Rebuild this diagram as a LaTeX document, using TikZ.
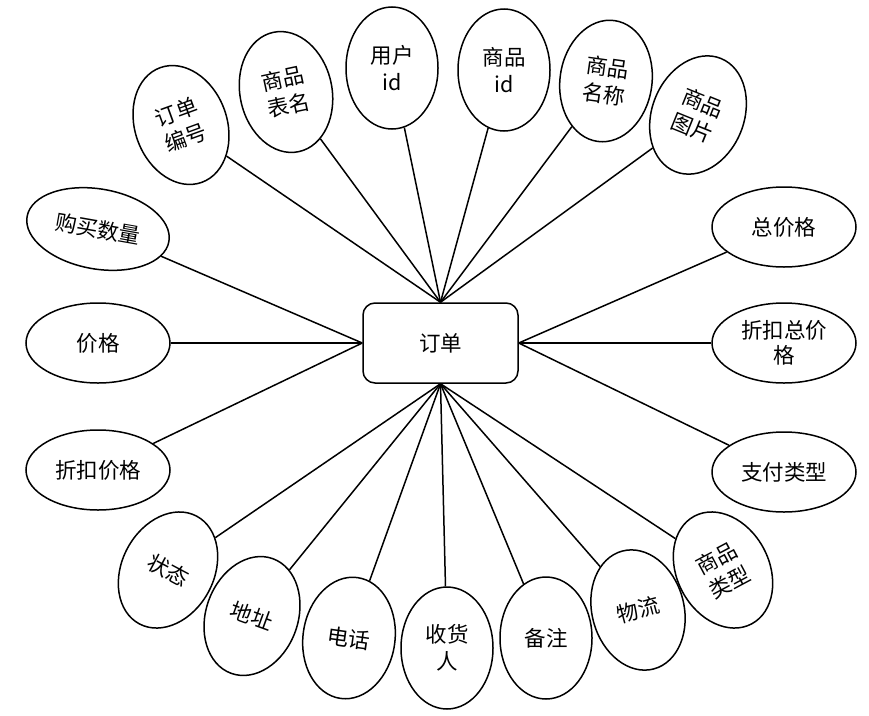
\documentclass[tikz,border=0pt]{standalone}
\usepackage{fontspec}
\newfontfamily\cjk{Noto Sans CJK SC}
\usetikzlibrary{shapes.geometric}

\begin{document}
\begin{tikzpicture}[x=1pt,y=-1pt,line width=1.5pt,
  attr/.style={draw,ellipse,fill=white,inner sep=0pt,minimum width=92pt,minimum height=122pt,align=center,font=\cjk\fontsize{21.5}{27}\selectfont},
  wattr/.style={attr,minimum width=144pt,minimum height=80pt,font=\cjk\fontsize{21.5}{25}\selectfont}]
\path[use as bounding box] (0,0) rectangle (869,715);
\node[draw,rounded corners=12pt,minimum width=155pt,minimum height=80pt,font=\cjk\fontsize{21.5}{27}\selectfont] (order) at (440.5,343) {订单};
\node[attr,rotate=20] (num) at (181,125) {订单\\编号};
\node[attr,rotate=12] (tab) at (286,92) {商品\\表名};
\node[attr] (uid) at (392,68) {用户\\id};
\node[attr] (gid) at (504,70) {商品\\id};
\node[attr,rotate=-8] (gname) at (606,81) {商品\\名称};
\node[attr,rotate=-22] (gpic) at (698,115) {商品\\图片};
\node[wattr] (total) at (784,227) {总价格};
\node[wattr] (disctotal) at (784,343) {折扣总价\\格};
\node[wattr] (paytype) at (784,472) {支付类型};
\node[wattr,rotate=-10] (qty) at (98,229) {购买数量};
\node[wattr] (price) at (98,343) {价格};
\node[wattr] (discprice) at (98,470) {折扣价格};
\node[attr,rotate=-28] (state) at (168,570) {状态};
\node[attr,rotate=-20] (addr) at (252,616) {地址};
\node[attr,rotate=-8] (tel) at (349,638) {电话};
\node[attr] (recv) at (447,648) {收货\\人};
\node[attr] (note) at (546,638) {备注};
\node[attr,rotate=15] (ship) at (638,610) {物流};
\node[attr,rotate=28] (gtype) at (723,570) {商品\\类型};
\draw (num) -- (order.north);
\draw (tab) -- (order.north);
\draw (uid) -- (order.north);
\draw (gid) -- (order.north);
\draw (gname) -- (order.north);
\draw (gpic) -- (order.north);
\draw (total) -- (order.east);
\draw (disctotal) -- (order.east);
\draw (paytype) -- (order.east);
\draw (qty) -- (order.west);
\draw (price) -- (order.west);
\draw (discprice) -- (order.west);
\draw (state) -- (order.south);
\draw (addr) -- (order.south);
\draw (tel) -- (order.south);
\draw (recv) -- (order.south);
\draw (note) -- (order.south);
\draw (ship) -- (order.south);
\draw (gtype) -- (order.south);
\end{tikzpicture}
\end{document}
